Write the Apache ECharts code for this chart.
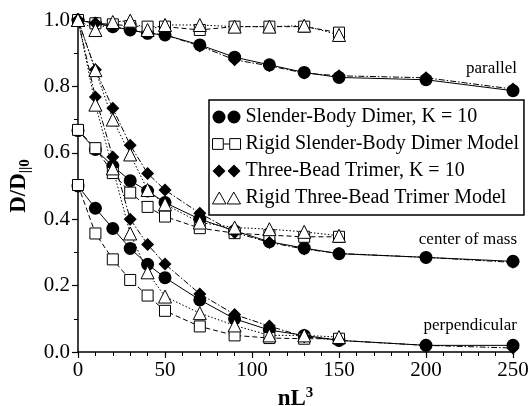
<!DOCTYPE html>
<html>
<head>
<meta charset="utf-8">
<script src="https://cdn.jsdelivr.net/npm/echarts@6/dist/echarts.min.js"></script>
<style>
  html, body { margin: 0; padding: 0; background: #fff; }
  #chart { width: 532px; height: 406px; }
</style>
</head>
<body>
<div id="chart"></div>
<script>
// nL^3 values
var xFlex = [0, 10, 20, 30, 40, 50, 70, 90, 110, 130, 150, 200, 250]
var xRigid = [0, 10, 20, 30, 40, 50, 70, 90, 110, 130, 150]

// Slender-Body Dimer, K = 10
var dimerPar = [1.0, 0.99, 0.98, 0.97, 0.96, 0.955, 0.925, 0.888, 0.865, 0.842, 0.827, 0.82, 0.787]
var dimerCm = [0.667, 0.61, 0.56, 0.516, 0.485, 0.45, 0.40, 0.365, 0.332, 0.313, 0.296, 0.285, 0.273]
var dimerPerp = [0.5, 0.433, 0.372, 0.312, 0.264, 0.224, 0.157, 0.10, 0.066, 0.05, 0.035, 0.02, 0.02]

// Rigid Slender-Body Dimer Model
var rDimerPar = [1.0, 0.99, 0.987, 0.982, 0.98, 0.98, 0.97, 0.98, 0.98, 0.98, 0.962]
var rDimerCm = [0.669, 0.614, 0.539, 0.48, 0.437, 0.408, 0.373, 0.358, 0.352, 0.347, 0.347]
var rDimerPerp = [0.503, 0.357, 0.279, 0.217, 0.17, 0.124, 0.077, 0.05, 0.042, 0.04, 0.04]

// Three-Bead Trimer, K = 10
var trimerPar = [1.0, 0.99, 0.98, 0.97, 0.96, 0.955, 0.922, 0.88, 0.862, 0.84, 0.832, 0.826, 0.792]
var trimerCm = [1.0, 0.85, 0.734, 0.623, 0.538, 0.488, 0.418, 0.36, 0.33, 0.31, 0.297, 0.285, 0.27]
var trimerPerp = [1.0, 0.768, 0.587, 0.40, 0.324, 0.265, 0.175, 0.113, 0.078, 0.046, 0.035, 0.02, 0.012]

// Rigid Three-Bead Trimer Model
var rTrimerPar = [1.0, 0.97, 0.994, 0.998, 0.97, 0.985, 0.985, 0.98, 0.98, 0.983, 0.955]
var rTrimerCm = [1.0, 0.849, 0.70, 0.595, 0.488, 0.445, 0.39, 0.375, 0.37, 0.362, 0.35]
var rTrimerPerp = [1.0, 0.745, 0.553, 0.357, 0.24, 0.167, 0.117, 0.08, 0.05, 0.05, 0.045]

var names = ['Slender-Body Dimer, K = 10', 'Rigid Slender-Body Dimer Model',
  'Three-Bead Trimer, K = 10', 'Rigid Three-Bead Trimer Model']

function pairs (xs, ys) {
  var out = []
  for (var i = 0; i < ys.length; i++) {
    out.push([xs[i], ys[i]])
  }
  return out
}

var serif = 'Liberation Serif'

function mk (name, xs, ys, symbol, size, filled, dash) {
  return {
    name: name,
    type: 'line',
    data: pairs(xs, ys),
    symbol: symbol,
    symbolSize: size,
    lineStyle: { color: '#000', width: 1, type: dash },
    itemStyle: filled
      ? { color: '#000', borderColor: '#000', borderWidth: 0 }
      : { color: '#fff', borderColor: '#000', borderWidth: 1 },
    z: 2
  }
}

var dashDot = [6, 2, 1.5, 2]
var series = [
  mk(names[0], xFlex, dimerPar, 'circle', 13, true, 'solid'),
  mk(names[0], xFlex, dimerCm, 'circle', 13, true, 'solid'),
  mk(names[0], xFlex, dimerPerp, 'circle', 13, true, 'solid'),
  mk(names[1], xRigid, rDimerPar, 'rect', 11, false, [5, 3]),
  mk(names[1], xRigid, rDimerCm, 'rect', 11, false, [5, 3]),
  mk(names[1], xRigid, rDimerPerp, 'rect', 11, false, [5, 3]),
  mk(names[2], xFlex, trimerPar, 'diamond', 13, true, dashDot),
  mk(names[2], xFlex, trimerCm, 'diamond', 13, true, dashDot),
  mk(names[2], xFlex, trimerPerp, 'diamond', 13, true, dashDot),
  mk(names[3], xRigid, rTrimerPar, 'triangle', 13, false, [1.5, 2]),
  mk(names[3], xRigid, rTrimerCm, 'triangle', 13, false, [1.5, 2]),
  mk(names[3], xRigid, rTrimerPerp, 'triangle', 13, false, [1.5, 2])
]

var myChart = echarts.init(document.getElementById('chart'))
var option = {
  animation: false,
  backgroundColor: '#fff',
  grid: { left: 78, right: 19, top: 20, bottom: 54, containLabel: false, outerBoundsMode: 'none' },
  legend: {
    orient: 'vertical',
    left: 209,
    top: 100,
    padding: [7, 5, 7, 3],
    itemGap: 7,
    itemWidth: 28,
    itemHeight: 13,
    borderColor: '#000',
    borderWidth: 1.5,
    backgroundColor: '#fff',
    textStyle: { fontFamily: serif, fontSize: 20, color: '#000' },
    data: [
      { name: names[0], icon: 'path://M0,6.5a6.5,6.5 0 1,0 13,0a6.5,6.5 0 1,0 -13,0zM15,6.5a6.5,6.5 0 1,0 13,0a6.5,6.5 0 1,0 -13,0z',
        itemStyle: { color: '#000', borderWidth: 0 } },
      { name: names[1], icon: 'path://M1,1.5h10v10h-10zM11,6.5h6M17,1.5h10v10h-10z',
        itemStyle: { color: '#fff', borderColor: '#000', borderWidth: 1 } },
      { name: names[2], icon: 'path://M6.5,0l6.5,6.5l-6.5,6.5l-6.5,-6.5zM21.5,0l6.5,6.5l-6.5,6.5l-6.5,-6.5z',
        itemStyle: { color: '#000', borderWidth: 0 } },
      { name: names[3], icon: 'path://M7,1l6.5,11.5h-13zM21,1l6.5,11.5h-13z',
        itemStyle: { color: '#fff', borderColor: '#000', borderWidth: 1 } }
    ]
  },
  xAxis: {
    type: 'value',
    min: 0,
    max: 250,
    interval: 50,
    name: 'nL{sup|3}',
    nameLocation: 'middle',
    nameGap: 33,
    nameTextStyle: {
      fontFamily: serif, fontSize: 23, fontWeight: 'bold', color: '#000',
      rich: { sup: { fontFamily: serif, fontSize: 15, fontWeight: 'bold', color: '#000', verticalAlign: 'top', padding: [0, 0, 12, 0] } }
    },
    axisLine: { lineStyle: { color: '#000', width: 1.5 } },
    axisTick: { length: 6, lineStyle: { color: '#000', width: 1.2 } },
    minorTick: { show: true, splitNumber: 5, length: 4, lineStyle: { color: '#000', width: 1 } },
    splitLine: { show: false },
    axisLabel: { fontFamily: serif, fontSize: 21, color: '#000', margin: 8 }
  },
  yAxis: {
    type: 'value',
    min: 0,
    max: 1,
    interval: 0.2,
    name: 'D/D{sub|||0}',
    nameLocation: 'middle',
    nameGap: 41,
    nameTextStyle: {
      fontFamily: serif, fontSize: 23, fontWeight: 'bold', color: '#000',
      rich: { sub: { fontFamily: serif, fontSize: 15, fontWeight: 'bold', color: '#000', verticalAlign: 'bottom', padding: [12, 0, 0, 0] } }
    },
    axisLine: { show: true, lineStyle: { color: '#000', width: 1.5 } },
    axisTick: { show: true, length: 6, lineStyle: { color: '#000', width: 1.2 } },
    minorTick: { show: true, splitNumber: 2, length: 4, lineStyle: { color: '#000', width: 1 } },
    splitLine: { show: false },
    axisLabel: {
      fontFamily: serif, fontSize: 21, color: '#000', margin: 8,
      formatter: function (v) { return v.toFixed(1) }
    }
  },
  graphic: [
    { type: 'text', z: 100, style: { x: 517, y: 69, text: 'parallel', textAlign: 'right', textVerticalAlign: 'middle', font: '17px "Liberation Serif"', fill: '#000' } },
    { type: 'text', z: 100, style: { x: 517, y: 240, text: 'center of mass', textAlign: 'right', textVerticalAlign: 'middle', font: '17px "Liberation Serif"', fill: '#000' } },
    { type: 'text', z: 100, style: { x: 517, y: 326, text: 'perpendicular', textAlign: 'right', textVerticalAlign: 'middle', font: '17px "Liberation Serif"', fill: '#000' } }
  ],
  series: series
}
myChart.setOption(option)
</script>
</body>
</html>
